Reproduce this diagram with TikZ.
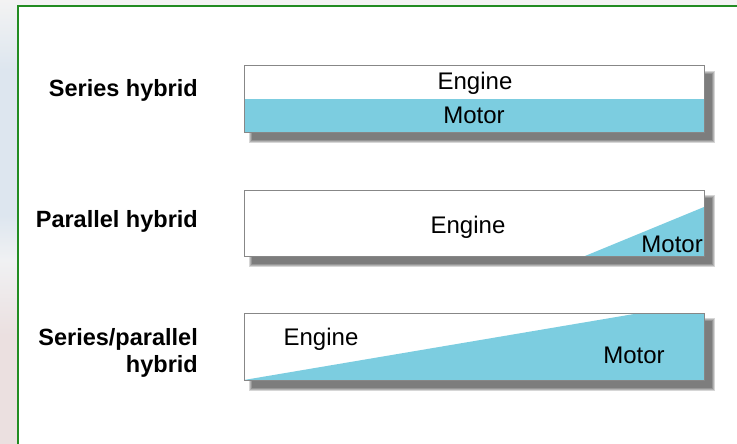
\documentclass[tikz,border=0pt]{standalone}
\usepackage{fontspec}
\setmainfont{Liberation Sans}
\definecolor{cyanfill}{RGB}{124,205,224}
\definecolor{framegreen}{RGB}{34,140,34}
\definecolor{boxedge}{RGB}{135,135,135}
\definecolor{stripgray}{RGB}{243,243,243}
\definecolor{stripblue}{RGB}{221,230,239}
\definecolor{striplight}{RGB}{240,241,243}
\definecolor{strippink}{RGB}{235,224,224}
\tikzset{
  panel/.style={draw=boxedge, line width=1pt, fill=white},
  lbl/.style={font=\fontsize{23.5}{27}\selectfont\bfseries, inner sep=0pt, align=right},
  txt/.style={font=\fontsize{24}{28}\selectfont, inner sep=0pt},
}
\newcommand\softshadow[4]{%
  \foreach \e in {3,2,1,0}{%
    \fill[black, opacity=0.16] (#1+8-\e,#2+8-\e) rectangle (#3+8+\e,#4+8+\e);}%
}
\begin{document}
\begin{tikzpicture}[x=1pt,y=-1pt]
\useasboundingbox (0,0) rectangle (737,444);
% background
\fill[white] (0,0) rectangle (737,444);
\fill[stripgray] (0,0) rectangle (737,6);
\shade[top color=stripgray, bottom color=stripblue] (0,0) rectangle (18,70);
\fill[stripblue] (0,70) rectangle (18,215);
\shade[top color=stripblue, bottom color=striplight] (0,215) rectangle (18,260);
\shade[top color=striplight, bottom color=strippink] (0,260) rectangle (18,335);
\fill[strippink] (0,335) rectangle (18,444);
% frame
\draw[framegreen, line width=2pt] (18,450) -- (18,6) -- (745,6);

% box 1: series hybrid
\softshadow{244}{66}{704}{132}
\fill[white] (244,66) rectangle (704,132);
\fill[cyanfill] (244,99) rectangle (704,132);
\draw[panel, fill=none] (244,66) rectangle (704,132);
\node[txt, anchor=base] (e1) at (475,89.5) {Engine};
\node[txt, anchor=base] (m1) at (474,124) {Motor};

% box 2: parallel hybrid
\softshadow{244}{190}{704}{256}
\fill[white] (244,190) rectangle (704,256);
\fill[cyanfill] (585,256) -- (704,207) -- (704,256) -- cycle;
\draw[panel, fill=none] (244,190) rectangle (704,256);
\node[txt, anchor=base] (e2) at (468,233) {Engine};
\node[txt, anchor=base east] (m2) at (703,252) {Motor};

% box 3: series/parallel hybrid
\softshadow{244}{313}{704}{380}
\fill[white] (244,313) rectangle (704,380);
\fill[cyanfill] (244,380) -- (640,313) -- (704,313) -- (704,380) -- cycle;
\draw[panel, fill=none] (244,313) rectangle (704,380);
\node[txt, anchor=base] (e3) at (321,345) {Engine};
\node[txt, anchor=base] (m3) at (634,363) {Motor};

% labels
\node[lbl, anchor=base east] (l1) at (198,96) {Series hybrid};
\node[lbl, anchor=base east] (l2) at (198,227) {Parallel hybrid};
\node[lbl, anchor=north east] (l3) at (198,328.5) {Series/parallel\\hybrid};
\end{tikzpicture}
\end{document}
